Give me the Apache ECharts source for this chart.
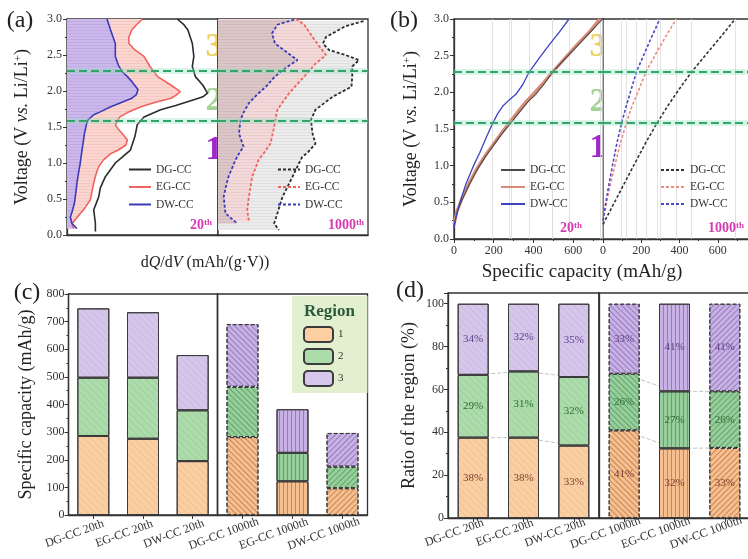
<!DOCTYPE html>
<html><head><meta charset="utf-8">
<script src="https://cdn.jsdelivr.net/npm/echarts/dist/echarts.min.js"></script>
<style>html,body{margin:0;padding:0;background:#fff}#c{width:748px;height:559px}</style>
</head><body><div id="c"></div>
<script>
// ---------------- data ----------------
const regionBounds = [1.58, 2.28];

// (a) dQ/dV curves, pairs [dQ/dV (arb. units), Voltage]
const dqdvDG20 = [[73,3.0],[77,2.93],[80,2.85],[83,2.66],[84,2.48],[83,2.34],[85,2.2],[90,2.08],[93,1.97],[90,1.92],[84,1.88],[72,1.8],[62,1.74],[51,1.64],[46.5,1.53],[45,1.37],[42,1.18],[36,1.07],[32,1.0],[25.4,0.81],[22,0.65],[21,0.53],[17.7,0.35],[18.8,0.16],[18.8,0.05]];
const dqdvEG20 = [[50,3.0],[46,2.92],[43,2.85],[41,2.75],[41,2.66],[45,2.57],[51,2.48],[55,2.34],[60,2.2],[69,2.08],[75,1.99],[72,1.94],[69,1.9],[58,1.84],[49,1.78],[40,1.7],[35,1.64],[32,1.53],[34,1.47],[36.5,1.41],[40,1.32],[39,1.25],[34,1.18],[29,1.13],[24,1.04],[21,0.95],[19,0.83],[17.7,0.72],[16.5,0.6],[15.5,0.49],[12,0.38],[8.8,0.3],[5,0.2],[3.3,0.16],[4.4,0.09]];
const dqdvDW20 = [[26.5,3.0],[28.8,2.85],[32,2.66],[32,2.48],[34,2.36],[36.5,2.27],[40,2.2],[43,2.13],[47,2.02],[46,1.95],[43,1.9],[36,1.84],[29,1.78],[22,1.71],[17.7,1.67],[14,1.6],[12.8,1.53],[11.5,1.4],[10.6,1.27],[9.6,1.13],[8.8,1.0],[7.6,0.86],[6.6,0.72],[5.8,0.58],[4.9,0.44],[3.5,0.33],[2.2,0.25],[3.3,0.16],[6.6,0.09]];
const dqdvDG1000 = [[97,2.97],[85,2.9],[72,2.75],[70,2.66],[74,2.57],[85,2.5],[94,2.43],[89.5,2.34],[89.5,2.2],[89,2.06],[76.5,1.92],[65,1.74],[62,1.6],[63,1.41],[65,1.27],[60,1.15],[56,1.08],[49.7,0.81],[43,0.53],[39.6,0.3],[37.4,0.16],[40.6,0.07]];
const dqdvEG1000 = [[52,3.0],[57.5,2.92],[63,2.75],[67.6,2.62],[72,2.5],[68,2.43],[65,2.38],[57.5,2.2],[47.4,1.97],[39.6,1.74],[37.4,1.5],[35,1.27],[31,1.15],[27,1.04],[22.8,0.81],[20.6,0.53],[19.5,0.35],[20.6,0.19]];
const dqdvDW1000 = [[50.8,2.99],[44,2.95],[39.6,2.92],[36,2.8],[38,2.66],[47,2.52],[53,2.43],[48,2.36],[43,2.29],[37,2.18],[32,2.06],[26,1.95],[20.6,1.83],[17,1.7],[15,1.6],[14,1.41],[17,1.23],[14,1.13],[11.6,1.04],[7,0.81],[5,0.65],[3.8,0.53],[5,0.3],[12.8,0.16]];

// (b) charge curves, pairs [Specific capacity (mAh/g), Voltage]
const capDG20 = [[0,0.18],[15,0.36],[40,0.53],[80,0.76],[120,0.96],[160,1.13],[200,1.28],[240,1.43],[286,1.58],[330,1.73],[372,1.87],[410,1.97],[455,2.12],[497,2.28],[560,2.46],[620,2.63],[690,2.83],[748,3.0]];
const capEG20 = [[0,0.2],[15,0.38],[40,0.55],[80,0.78],[120,0.98],[160,1.15],[200,1.3],[240,1.45],[276,1.58],[320,1.73],[365,1.88],[400,1.98],[450,2.13],[497,2.28],[560,2.47],[620,2.65],[680,2.82],[734,3.0]];
const capDW20 = [[0,0.15],[10,0.3],[30,0.5],[60,0.75],[95,0.98],[130,1.18],[165,1.4],[195,1.58],[220,1.71],[245,1.81],[275,1.89],[310,1.97],[345,2.1],[379,2.28],[430,2.47],[480,2.65],[530,2.82],[579,3.0]];
const capDG1000 = [[0,0.2],[30,0.35],[70,0.55],[120,0.8],[170,1.05],[225,1.32],[282,1.58],[340,1.82],[400,2.05],[464,2.28],[540,2.52],[620,2.77],[691,3.0]];
const capEG1000 = [[0,0.25],[15,0.45],[35,0.7],[60,0.98],[90,1.3],[122,1.58],[150,1.8],[185,2.02],[225,2.28],[275,2.52],[330,2.77],[383,3.0]];
const capDW1000 = [[0,0.25],[12,0.45],[28,0.7],[48,0.98],[72,1.3],[97,1.58],[120,1.8],[145,2.02],[175,2.28],[215,2.52],[255,2.76],[297,3.0]];

// (c) capacity per region
const cycles20 = ['DG-CC 20th', 'EG-CC 20th', 'DW-CC 20th'];
const cycles1000 = ['DG-CC 1000th', 'EG-CC 1000th', 'DW-CC 1000th'];
const capRegion1 = [286, 276, 195, 282, 122, 97];
const capRegion2 = [211, 221, 184, 182, 103, 78];
const capRegion3 = [251, 237, 200, 227, 158, 122];

// (d) ratio per region
const pctRegion1 = [37.5, 37.5, 33.8, 40.9, 32.5, 32.7];
const pctRegion2 = [29.3, 30.9, 32.0, 26.4, 26.6, 26.4];
const pctRegion3 = [33.2, 31.6, 34.2, 32.7, 40.9, 40.9];
const pctLabel1 = ['38%', '38%', '33%', '41%', '32%', '33%'];
const pctLabel2 = ['29%', '31%', '32%', '26%', '27%', '26%'];
const pctLabel3 = ['34%', '32%', '35%', '33%', '41%', '41%'];
const regionNames = ['1', '2', '3'];

// ---------------- styling helpers ----------------
const FONT = '"Liberation Serif","Times New Roman",serif';
const AX = '#333';

function stripes(bg, line) {
  const c = document.createElement('canvas');
  c.width = 6; c.height = 3;
  const g = c.getContext('2d');
  g.fillStyle = bg; g.fillRect(0, 0, 6, 3);
  g.fillStyle = line; g.fillRect(0, 0, 6, 1);
  return { image: c, repeat: 'repeat' };
}

function fillSeries(data, gi, pattern) {
  return {
    type: 'custom', xAxisIndex: gi, yAxisIndex: gi, silent: true, data: data,
    encode: { x: 0, y: 1 }, z: 2,
    renderItem: function (params, api) {
      if (params.dataIndex !== 0) return null;
      const pts = [api.coord([0, data[0][1]])];
      data.forEach(p => pts.push(api.coord(p)));
      pts.push(api.coord([0, data[data.length - 1][1]]));
      return { type: 'polygon', shape: { points: pts }, style: { fill: pattern } };
    }
  };
}

function lineSeries(name, data, gi, color, width, type, extra) {
  return Object.assign({
    type: 'line', name: name, xAxisIndex: gi, yAxisIndex: gi, data: data,
    symbol: 'none', showSymbol: false, silent: true, z: 3,
    lineStyle: { color: color, width: width, type: type || 'solid' },
    itemStyle: { color: color }
  }, extra || {});
}

function greenLines() {
  const d = [];
  regionBounds.forEach(v => {
    d.push({ yAxis: v, lineStyle: { color: 'rgba(140,225,190,0.35)', width: 6, type: 'solid' } });
    d.push({ yAxis: v, lineStyle: { color: '#35a469', width: 2.2, type: [8, 4] } });
  });
  return { silent: true, symbol: ['none', 'none'], label: { show: false }, animation: false, z: 5, data: d };
}

function greyLines(indices) {
  const d = [];
  indices.forEach(i => {
    const a = capRegion1[i], b = a + capRegion2[i], c = b + capRegion3[i];
    [a, b, c].forEach(v => d.push({ xAxis: v }));
  });
  return { silent: true, symbol: ['none', 'none'], label: { show: false }, animation: false, z: 1,
    lineStyle: { color: '#dadada', width: 0.8, type: 'solid' }, data: d };
}

const regionColors20 = ['#fccfa2', '#abdcaa', '#d7c6ec'];
const regionColors1000 = ['#f7bf8f', '#96cf9b', '#c8b1e4'];
const hatchColors = ['rgba(150,80,30,0.5)', 'rgba(40,110,50,0.45)', 'rgba(90,60,140,0.45)'];
const labelColors = ['#7a3b2e', '#2f6b34', '#5b3d86'];

function barStyle(region, idx) {
  if (idx < 3) {
    return { color: regionColors20[region], borderColor: '#3b3b3b', borderWidth: 1,
      decal: { symbol: 'rect', symbolSize: 1, dashArrayX: [1, 0], dashArrayY: [1, 4], rotation: Math.PI / 4, color: 'rgba(0,0,0,0.06)' } };
  }
  const rot = [Math.PI / 4, Math.PI / 2, -Math.PI / 4][idx - 3];
  return { color: regionColors1000[region], borderColor: '#3b3b3b', borderWidth: 1, borderType: idx === 4 ? 'solid' : 'dashed',
    decal: { symbol: 'rect', symbolSize: 1, dashArrayX: [1, 0], dashArrayY: [1, 3], rotation: rot, color: hatchColors[region] } };
}

function barSeries(name, values, region, offset, gi, stack, width, labels) {
  const s = {
    type: 'bar', name: name, xAxisIndex: gi, yAxisIndex: gi, stack: stack, barWidth: width, silent: true, z: 2,
    itemStyle: { color: regionColors20[region], borderColor: '#3b3b3b', borderWidth: 1 },
    data: values.slice(offset, offset + 3).map((v, i) => ({ value: v, itemStyle: barStyle(region, offset + i) }))
  };
  if (labels) {
    s.label = { show: true, position: 'inside', fontFamily: FONT, fontSize: 11, color: labelColors[region],
      formatter: p => labels[offset + p.dataIndex] };
  }
  return s;
}

function connSeries(values, offset, gi, stack) {
  return { type: 'line', xAxisIndex: gi, yAxisIndex: gi, stack: stack, data: values.slice(offset, offset + 3),
    symbol: 'none', silent: true, z: 1, lineStyle: { color: '#c4c4c4', width: 1, type: 'dashed' } };
}

// ---------------- axes ----------------
const rightWhite = '#fff';
function grid(l, t, w, h, z, bg) {
  return { left: l, top: t, width: w, height: h, show: true, borderColor: AX, borderWidth: 1.3,
    backgroundColor: bg || 'transparent', z: z || 0, containLabel: false, outerBoundsMode: 'none' };
}
const grids = [
  grid(67, 19, 151, 216), grid(218, 19, 150, 216, 1, rightWhite),
  grid(454, 19, 149, 220), grid(603, 19, 153, 220, 1, rightWhite),
  grid(68.5, 294, 149, 221), grid(217.5, 294, 150, 221),
  grid(448, 293, 151, 225), grid(599, 293, 151, 225)
];

const lbl = { fontFamily: FONT, fontSize: 12, color: AX };
const tick = { show: true, length: 4, inside: false, lineStyle: { color: AX, width: 1 } };
const mtick = { show: true, splitNumber: 2, length: 2, lineStyle: { color: AX, width: 1 } };
const aline = { show: true, lineStyle: { color: AX, width: 1.3 } };
const nameStyle = { fontFamily: FONT, fontSize: 18, color: '#222' };

function voltAxis(gi, withName, gap) {
  const a = { type: 'value', gridIndex: gi, min: 0, max: 3, interval: 0.5, axisLine: aline, splitLine: { show: false } };
  if (withName) {
    Object.assign(a, {
      axisLabel: Object.assign({ formatter: v => v.toFixed(1), margin: 5 }, lbl),
      axisTick: tick, minorTick: mtick,
      name: '{n|Voltage (V }{i|vs.}{n| Li/Li}{s|+}{n|)}', nameLocation: 'middle', nameGap: gap, nameRotate: 90,
      nameMoveOverlap: false,
      nameTextStyle: { rich: {
        n: nameStyle,
        i: Object.assign({}, nameStyle, { fontStyle: 'italic' }),
        s: { fontFamily: FONT, fontSize: 11, color: '#222', verticalAlign: 'top' } } }
    });
  } else {
    Object.assign(a, { axisLabel: { show: false }, axisTick: { show: false } });
  }
  return a;
}

const catLabel = (margin) => Object.assign({ interval: 0, rotate: 20, align: 'center', verticalAlign: 'middle',
  margin: margin, padding: [0, 40, 0, 0] }, lbl);

const xAxes = [
  { type: 'value', gridIndex: 0, min: 0, max: 100, axisLine: aline, axisLabel: { show: false }, axisTick: { show: false }, splitLine: { show: false } },
  { type: 'value', gridIndex: 1, min: 0, max: 100, axisLine: aline, axisLabel: { show: false }, axisTick: { show: false }, splitLine: { show: false } },
  { type: 'value', gridIndex: 2, min: 0, max: 750, interval: 200, axisLine: aline, splitLine: { show: false },
    axisLabel: Object.assign({ showMaxLabel: false, margin: 6 }, lbl), axisTick: tick, minorTick: mtick },
  { type: 'value', gridIndex: 3, min: 0, max: 800, interval: 200, axisLine: aline, splitLine: { show: false },
    axisLabel: Object.assign({ showMaxLabel: false, margin: 6 }, lbl), axisTick: tick, minorTick: mtick },
  { type: 'category', gridIndex: 4, data: cycles20, axisLine: aline, axisTick: Object.assign({ alignWithLabel: true }, tick), axisLabel: catLabel(12) },
  { type: 'category', gridIndex: 5, data: cycles1000, axisLine: aline, axisTick: Object.assign({ alignWithLabel: true }, tick), axisLabel: catLabel(12) },
  { type: 'category', gridIndex: 6, data: cycles20, axisLine: aline, axisTick: Object.assign({ alignWithLabel: true }, tick), axisLabel: catLabel(8) },
  { type: 'category', gridIndex: 7, data: cycles1000, axisLine: aline, axisTick: Object.assign({ alignWithLabel: true }, tick), axisLabel: catLabel(8) }
];

const yAxes = [
  voltAxis(0, true, 36), voltAxis(1, false),
  voltAxis(2, true, 34), voltAxis(3, false),
  { type: 'value', gridIndex: 4, min: 0, max: 800, interval: 100, axisLine: aline, splitLine: { show: false },
    axisLabel: Object.assign({ margin: 4 }, lbl), axisTick: tick, minorTick: mtick,
    name: 'Specific capacity (mAh/g)', nameLocation: 'middle', nameGap: 33, nameRotate: 90, nameMoveOverlap: false, nameTextStyle: nameStyle },
  { type: 'value', gridIndex: 5, min: 0, max: 800, interval: 100, axisLine: aline, splitLine: { show: false }, axisLabel: { show: false }, axisTick: { show: false } },
  { type: 'value', gridIndex: 6, min: 0, max: 105, interval: 20, axisLine: aline, splitLine: { show: false },
    axisLabel: Object.assign({ margin: 4, showMaxLabel: false }, lbl), axisTick: tick, minorTick: mtick,
    name: 'Ratio of the region (%)', nameLocation: 'middle', nameGap: 30, nameRotate: 90, nameMoveOverlap: false, nameTextStyle: nameStyle },
  { type: 'value', gridIndex: 7, min: 0, max: 105, interval: 20, axisLine: aline, splitLine: { show: false }, axisLabel: { show: false }, axisTick: { show: false } }
];

// ---------------- series ----------------
const DGc = '#2b2b2b', EGc = '#f0625c', DWc = '#3b3bb8';
const dots = [3, 2];
const series = [
  // (a) 20th
  fillSeries(dqdvEG20, 0, stripes('#fbd6d1', '#f5c8c2')),
  fillSeries(dqdvDW20, 0, stripes('#cdb8ec', '#c0aae6')),
  lineSeries('DG-CC|a20', dqdvDG20, 0, DGc, 1.6, 'solid', { markLine: greenLines() }),
  lineSeries('EG-CC|a20', dqdvEG20, 0, EGc, 1.6),
  lineSeries('DW-CC|a20', dqdvDW20, 0, DWc, 1.6),
  // (a) 1000th
  fillSeries(dqdvDG1000, 1, stripes('#ececec', '#e0e0e0')),
  fillSeries(dqdvEG1000, 1, stripes('#f3d9d9', '#eacdcd')),
  fillSeries(dqdvDW1000, 1, stripes('#dcc6c8', '#d0bbbd')),
  lineSeries('DG-CC|a1000', dqdvDG1000, 1, DGc, 1.8, dots, { markLine: greenLines() }),
  lineSeries('EG-CC|a1000', dqdvEG1000, 1, EGc, 1.8, dots),
  lineSeries('DW-CC|a1000', dqdvDW1000, 1, DWc, 1.8, dots),
  // (b) 20th
  lineSeries('EG-CC|b20', capEG20, 2, '#d98b76', 3.2, 'solid', { markLine: greyLines([0, 1, 2]) }),
  lineSeries('DG-CC|b20', capDG20, 2, '#4a4a4a', 1.1, 'solid', { markLine: greenLines() }),
  lineSeries('DW-CC|b20', capDW20, 2, '#3d43c0', 1.3),
  // (b) 1000th
  lineSeries('EG-CC|b1000', capEG1000, 3, '#f08a82', 1.6, dots, { markLine: greyLines([3, 4, 5]) }),
  lineSeries('DG-CC|b1000', capDG1000, 3, '#333', 1.6, dots, { markLine: greenLines() }),
  lineSeries('DW-CC|b1000', capDW1000, 3, '#4a4ac8', 1.6, dots),
  // (c)
  barSeries('1', capRegion1, 0, 0, 4, 'c20', 32),
  barSeries('2', capRegion2, 1, 0, 4, 'c20', 32),
  barSeries('3', capRegion3, 2, 0, 4, 'c20', 32),
  barSeries('1|c', capRegion1, 0, 3, 5, 'c1000', 32),
  barSeries('2|c', capRegion2, 1, 3, 5, 'c1000', 32),
  barSeries('3|c', capRegion3, 2, 3, 5, 'c1000', 32),
  // (d)
  connSeries(pctRegion1, 0, 6, 'k20'), connSeries(pctRegion2, 0, 6, 'k20'),
  connSeries(pctRegion1, 3, 7, 'k1000'), connSeries(pctRegion2, 3, 7, 'k1000'),
  barSeries('1|d', pctRegion1, 0, 0, 6, 'd20', 31, pctLabel1),
  barSeries('2|d', pctRegion2, 1, 0, 6, 'd20', 31, pctLabel2),
  barSeries('3|d', pctRegion3, 2, 0, 6, 'd20', 31, pctLabel3),
  barSeries('1|e', pctRegion1, 0, 3, 7, 'd1000', 31, pctLabel1),
  barSeries('2|e', pctRegion2, 1, 3, 7, 'd1000', 31, pctLabel2),
  barSeries('3|e', pctRegion3, 2, 3, 7, 'd1000', 31, pctLabel3)
];

// ---------------- legends ----------------
function lineLegend(names, left, top, iw, ih, gap) {
  return { data: names, left: left, top: top, orient: 'vertical', padding: 0, itemWidth: iw, itemHeight: ih, itemGap: gap,
    selectedMode: false, formatter: n => n.split('|')[0],
    itemStyle: { opacity: 0, borderWidth: 0 },
    textStyle: { fontFamily: FONT, fontSize: 11.5, color: AX } };
}
const legends = [
  lineLegend(['DG-CC|a20', 'EG-CC|a20', 'DW-CC|a20'], 128, 163.5, 22, 13, 5.5),
  lineLegend(['DG-CC|a1000', 'EG-CC|a1000', 'DW-CC|a1000'], 277, 163.5, 22, 13, 5.5),
  lineLegend(['DG-CC|b20', 'EG-CC|b20', 'DW-CC|b20'], 500, 164, 24, 12, 5),
  lineLegend(['DG-CC|b1000', 'EG-CC|b1000', 'DW-CC|b1000'], 660, 164, 24, 12, 5),
  { data: regionNames, left: 292, top: 296, orient: 'vertical', icon: 'roundRect', itemWidth: 29, itemHeight: 15, itemGap: 5,
    padding: [30, 24, 6, 11], backgroundColor: '#e3f0cf', selectedMode: false,
    textStyle: { fontFamily: FONT, fontSize: 11, color: AX } }
];

// ---------------- texts ----------------
function txt(x, y, text, size, color, extra) {
  return Object.assign({ type: 'text', x: x, y: y, z: 10, silent: true,
    style: Object.assign({ text: text, fontFamily: FONT, fontSize: size, fill: color, align: 'center', verticalAlign: 'middle' }, (extra && extra.style) || {}) },
    extra && extra.z !== undefined ? { z: extra.z } : {});
}
const cyc = (num) => ({ style: { text: '{b|' + num + '}{s|th}', align: 'right', rich: {
  b: { fontFamily: FONT, fontSize: 14, fontWeight: 'bold', fill: '#d63bb1', color: '#d63bb1' },
  s: { fontFamily: FONT, fontSize: 9, fontWeight: 'bold', fill: '#d63bb1', color: '#d63bb1', verticalAlign: 'top' } } } });
const bigNum = (x, y, t, c) => txt(x, y, t, 34, c, { z: 0, style: { fontWeight: 'bold' } });

const graphics = [
  txt(20, 21, '(a)', 24, '#222'), txt(404, 21, '(b)', 24, '#222'),
  txt(27, 293, '(c)', 24, '#222'), txt(410, 291, '(d)', 24, '#222'),
  bigNum(214, 47, '3', '#ecd060'), bigNum(214, 101, '2', '#a3d394'), bigNum(214, 150, '1', '#a126cc'),
  bigNum(598, 47, '3', '#ecd060'), bigNum(598, 102, '2', '#a3d394'), bigNum(598, 148, '1', '#a126cc'),
  txt(212, 225, '', 14, '#d63bb1', cyc('20')),
  txt(364, 225, '', 14, '#d63bb1', cyc('1000')),
  txt(582, 228, '', 14, '#d63bb1', cyc('20')),
  txt(744, 228, '', 14, '#d63bb1', cyc('1000')),
  txt(205, 263, '', 16, '#222', { style: { text: '{n|d}{i|Q}{n|/d}{i|V}{n| (mAh/(g·V))}', rich: {
    n: { fontFamily: FONT, fontSize: 16, fill: '#222', color: '#222' },
    i: { fontFamily: FONT, fontSize: 16, fontStyle: 'italic', fill: '#222', color: '#222' } } } }),
  txt(582, 272, 'Specific capacity (mAh/g)', 19, '#222'),
  txt(329.5, 312, 'Region', 17, '#2d5a3c', { style: { fontWeight: 'bold' } })
];

const chart = echarts.init(document.getElementById('c'), null, { renderer: 'canvas' });
chart.setOption({
  animation: false,
  backgroundColor: '#fff',
  textStyle: { fontFamily: FONT },
  tooltip: { show: false },
  grid: grids, xAxis: xAxes, yAxis: yAxes,
  legend: legends, series: series, graphic: graphics
});
</script></body></html>
